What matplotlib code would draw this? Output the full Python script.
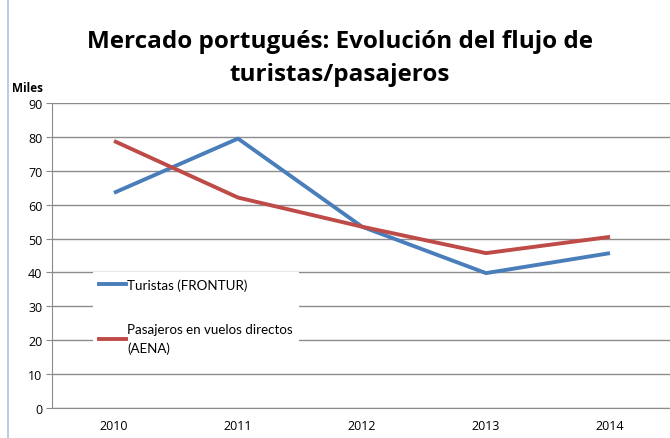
import matplotlib
matplotlib.use("Agg")
import matplotlib.pyplot as plt
from matplotlib.lines import Line2D

years = ["2010", "2011", "2012", "2013", "2014"]
turistas = [63.5, 79.5, 53.5, 39.8, 45.7]
pasajeros = [78.8, 62.1, 53.5, 45.7, 50.5]
yticks = [0, 10, 20, 30, 40, 50, 60, 70, 80, 90]

plt.rcParams['font.family'] = ['Open Sans', 'DejaVu Sans']

W, H = 670, 439
fig = plt.figure(figsize=(W / 100, H / 100), dpi=100)
x0, x1 = 52, 670
y0, y1 = 409, 104
ax = fig.add_axes([x0 / W, 1 - y0 / H, (x1 - x0) / W, (y0 - y1) / H])

xs = list(range(len(years)))
ax.plot(xs, turistas, color='#4a7ebb', lw=2.8, solid_capstyle='butt', zorder=3)
ax.plot(xs, pasajeros, color='#be4b48', lw=2.8, solid_capstyle='butt', zorder=3)

ax.set_xlim(-0.5, -0.5 + (x1 - x0) / 124)
ax.set_ylim(0, 90)
ax.set_yticks(yticks)
ax.set_xticks(xs)
ax.set_xticklabels(years)
ax.yaxis.grid(True, color='#8c8c8c', lw=1)
ax.set_axisbelow(True)
for s in ['top', 'right']:
    ax.spines[s].set_visible(False)
for s in ['left', 'bottom']:
    ax.spines[s].set_color('#8c8c8c')
ax.tick_params(axis='y', length=4, color='#8c8c8c', labelsize=9, pad=3)
ax.tick_params(axis='x', length=0, labelsize=9, pad=8)

fig.text(340 / W, 1 - 42 / H, "Mercado portugués: Evolución del flujo de",
         ha='center', va='center', fontsize=17.5, fontweight='bold')
fig.text(340 / W, 1 - 75 / H, "turistas/pasajeros",
         ha='center', va='center', fontsize=17.5, fontweight='bold')
fig.text(12 / W, 1 - 88 / H, "Miles", ha='left', va='center', fontsize=8.5, fontweight='bold')

# chart border on the left
fig.add_artist(Line2D([8 / W, 8 / W], [0, 1], color='#a9c4e4', lw=1.2))

handles = [Line2D([], [], color='#4a7ebb', lw=2.8),
           Line2D([], [], color='#be4b48', lw=2.8)]
leg = ax.legend(handles, ["Turistas (FRONTUR)", "Pasajeros en vuelos directos\n(AENA)"],
                loc='upper left', bbox_to_anchor=((93 - x0) / (x1 - x0), (y0 - 273) / (y0 - y1)),
                frameon=True, fancybox=False, framealpha=1, edgecolor='white',
                prop={'family': ['Lato', 'DejaVu Sans'], 'size': 9.6},
                handlelength=2.0, handletextpad=0.1, labelspacing=2.4,
                borderpad=0.45, borderaxespad=0)
leg.get_frame().set_linewidth(0)
leg.get_texts()[1].set_linespacing(1.65)
leg.set_zorder(5)

fig.savefig("out.png", dpi=100)
